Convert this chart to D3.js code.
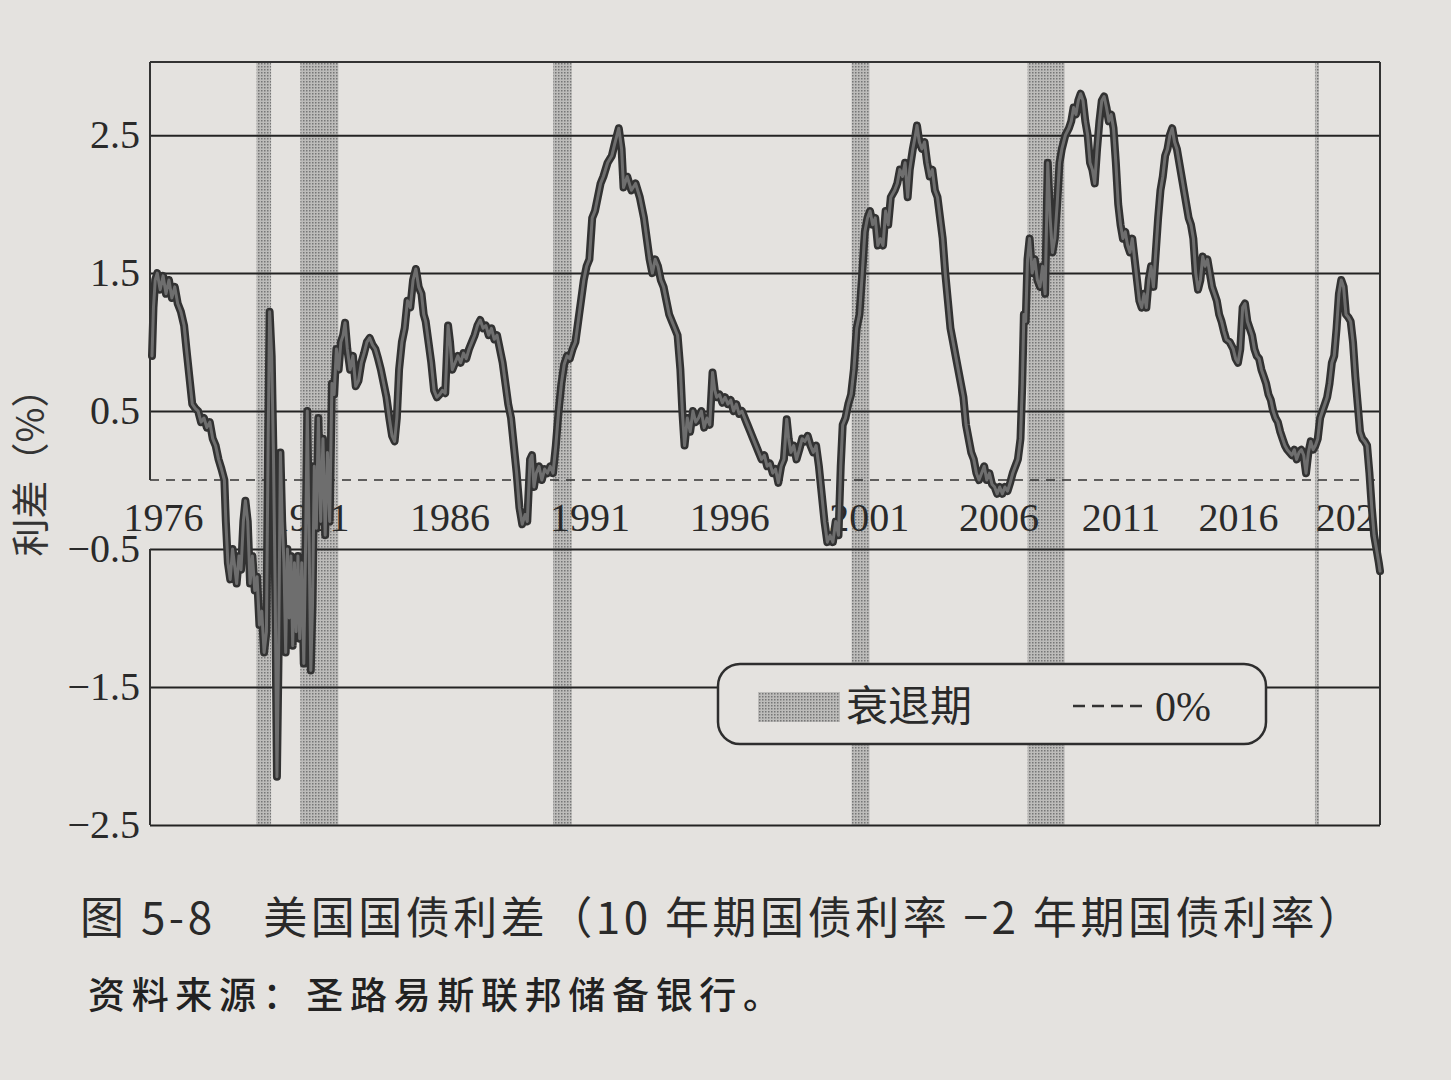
<!DOCTYPE html>
<html><head><meta charset="utf-8">
<script src="https://cdn.jsdelivr.net/npm/d3@7"></script>
<style>
html,body{margin:0;padding:0;background:#e4e2df;}
svg{display:block}
</style></head><body>
<svg id="chart" width="1451" height="1080"></svg>
<script>
// ---------- data ----------
// [decimal year, 10Y - 2Y spread in %]
const spreadSeries = [
[1976.42,0.9],[1976.47,1.25],[1976.53,1.45],[1976.6,1.5],[1976.7,1.38],[1976.8,1.48],[1976.9,1.35],[1977.0,1.45],
[1977.1,1.32],[1977.2,1.4],[1977.3,1.28],[1977.41,1.22],[1977.52,1.12],[1977.6,0.95],[1977.7,0.75],[1977.8,0.55],
[1977.9,0.52],[1978.0,0.5],[1978.1,0.42],[1978.2,0.45],[1978.3,0.38],[1978.4,0.42],[1978.5,0.3],[1978.6,0.25],
[1978.7,0.15],[1978.8,0.08],[1978.9,0.0],[1978.95,-0.3],[1979.02,-0.6],[1979.1,-0.72],[1979.18,-0.5],[1979.25,-0.62],
[1979.32,-0.75],[1979.4,-0.55],[1979.47,-0.65],[1979.55,-0.3],[1979.62,-0.15],[1979.7,-0.3],[1979.78,-0.75],[1979.86,-0.55],
[1979.94,-0.8],[1980.02,-0.7],[1980.1,-1.05],[1980.18,-0.95],[1980.26,-1.25],[1980.34,-1.1],[1980.4,0.3],[1980.45,1.22],
[1980.52,0.9],[1980.58,0.2],[1980.64,-0.8],[1980.7,-2.15],[1980.76,-1.2],[1980.82,0.2],[1980.88,-0.3],[1980.94,-0.6],
[1981.0,-1.25],[1981.06,-0.5],[1981.12,-1.0],[1981.18,-0.55],[1981.24,-1.2],[1981.3,-0.6],[1981.36,-1.1],[1981.42,-0.55],
[1981.48,-1.15],[1981.55,-0.6],[1981.62,-1.33],[1981.68,-0.5],[1981.74,0.5],[1981.8,-0.4],[1981.86,-1.38],[1981.92,-0.9],
[1981.98,0.1],[1982.05,-0.35],[1982.12,0.45],[1982.2,-0.3],[1982.28,0.3],[1982.36,-0.4],[1982.44,0.2],[1982.52,-0.3],
[1982.6,0.7],[1982.68,0.62],[1982.76,0.95],[1982.84,0.8],[1982.92,1.0],[1983.0,1.05],[1983.07,1.14],[1983.15,0.95],
[1983.25,0.8],[1983.35,0.9],[1983.45,0.68],[1983.55,0.72],[1983.65,0.85],[1983.75,0.92],[1983.85,1.0],[1983.95,1.03],
[1984.05,0.98],[1984.15,0.95],[1984.25,0.88],[1984.35,0.8],[1984.45,0.7],[1984.55,0.6],[1984.65,0.45],[1984.75,0.32],
[1984.84,0.28],[1984.92,0.45],[1985.0,0.8],[1985.1,1.0],[1985.2,1.1],[1985.3,1.3],[1985.4,1.25],[1985.5,1.45],
[1985.6,1.53],[1985.7,1.4],[1985.8,1.35],[1985.88,1.2],[1985.95,1.15],[1986.05,1.0],[1986.15,0.85],[1986.25,0.65],
[1986.35,0.6],[1986.45,0.62],[1986.55,0.65],[1986.65,0.63],[1986.75,1.12],[1986.82,1.0],[1986.9,0.8],[1987.0,0.85],
[1987.1,0.9],[1987.2,0.85],[1987.3,0.92],[1987.4,0.88],[1987.5,0.95],[1987.6,1.0],[1987.7,1.05],[1987.8,1.12],
[1987.9,1.16],[1988.0,1.1],[1988.1,1.12],[1988.2,1.05],[1988.3,1.1],[1988.4,1.02],[1988.5,1.05],[1988.6,0.95],
[1988.7,0.85],[1988.8,0.7],[1988.9,0.55],[1989.0,0.45],[1989.1,0.25],[1989.2,0.05],[1989.3,-0.2],[1989.4,-0.32],
[1989.5,-0.25],[1989.58,-0.3],[1989.68,0.15],[1989.75,0.18],[1989.82,-0.05],[1989.9,0.05],[1990.0,0.1],[1990.1,0.0],
[1990.2,0.08],[1990.3,0.05],[1990.4,0.1],[1990.5,0.05],[1990.6,0.25],[1990.7,0.5],[1990.8,0.7],[1990.9,0.84],
[1991.0,0.9],[1991.1,0.88],[1991.2,0.95],[1991.3,1.0],[1991.4,1.15],[1991.5,1.3],[1991.6,1.45],[1991.7,1.55],
[1991.8,1.6],[1991.9,1.9],[1992.0,1.95],[1992.1,2.05],[1992.2,2.15],[1992.3,2.2],[1992.45,2.3],[1992.6,2.35],
[1992.72,2.45],[1992.85,2.55],[1992.95,2.4],[1993.02,2.12],[1993.15,2.2],[1993.3,2.1],[1993.45,2.15],[1993.6,2.05],
[1993.75,1.9],[1993.85,1.75],[1993.95,1.6],[1994.05,1.5],[1994.15,1.6],[1994.25,1.55],[1994.35,1.45],[1994.45,1.4],
[1994.55,1.3],[1994.65,1.2],[1994.75,1.15],[1994.85,1.1],[1994.95,1.05],[1995.05,0.8],[1995.12,0.5],[1995.2,0.25],
[1995.3,0.45],[1995.4,0.35],[1995.5,0.5],[1995.6,0.42],[1995.7,0.45],[1995.8,0.5],[1995.9,0.38],[1996.0,0.45],
[1996.1,0.4],[1996.2,0.78],[1996.28,0.65],[1996.35,0.6],[1996.45,0.62],[1996.55,0.56],[1996.65,0.6],[1996.75,0.55],
[1996.85,0.58],[1996.95,0.5],[1997.05,0.55],[1997.15,0.48],[1997.25,0.5],[1997.35,0.45],[1997.45,0.4],[1997.55,0.35],
[1997.65,0.3],[1997.75,0.25],[1997.85,0.2],[1997.95,0.15],[1998.05,0.18],[1998.15,0.1],[1998.25,0.12],[1998.35,0.05],
[1998.45,0.08],[1998.55,-0.02],[1998.65,0.1],[1998.75,0.15],[1998.85,0.44],[1998.92,0.3],[1999.0,0.2],[1999.1,0.25],
[1999.2,0.15],[1999.3,0.22],[1999.4,0.3],[1999.5,0.28],[1999.6,0.32],[1999.7,0.25],[1999.8,0.2],[1999.9,0.25],
[2000.0,0.1],[2000.1,-0.1],[2000.2,-0.3],[2000.3,-0.45],[2000.4,-0.4],[2000.5,-0.45],[2000.6,-0.3],[2000.7,-0.4],
[2000.78,0.1],[2000.85,0.4],[2000.95,0.45],[2001.05,0.55],[2001.15,0.62],[2001.25,0.8],[2001.35,1.1],[2001.45,1.2],
[2001.55,1.5],[2001.65,1.8],[2001.75,1.9],[2001.85,1.95],[2001.95,1.85],[2002.05,1.9],[2002.15,1.7],[2002.25,1.75],
[2002.35,1.7],[2002.45,1.95],[2002.55,1.85],[2002.65,2.05],[2002.8,2.1],[2002.9,2.15],[2003.0,2.25],[2003.1,2.2],
[2003.2,2.3],[2003.3,2.05],[2003.38,2.25],[2003.5,2.4],[2003.6,2.5],[2003.66,2.57],[2003.75,2.45],[2003.85,2.4],
[2003.95,2.45],[2004.05,2.3],[2004.15,2.2],[2004.25,2.25],[2004.35,2.1],[2004.45,2.05],[2004.55,1.9],[2004.65,1.75],
[2004.75,1.5],[2004.85,1.3],[2004.95,1.1],[2005.05,1.0],[2005.15,0.9],[2005.25,0.8],[2005.35,0.7],[2005.45,0.6],
[2005.55,0.4],[2005.65,0.3],[2005.75,0.2],[2005.85,0.15],[2005.95,0.05],[2006.05,0.0],[2006.15,0.05],[2006.25,0.1],
[2006.35,0.0],[2006.45,0.05],[2006.55,-0.03],[2006.65,-0.05],[2006.75,-0.1],[2006.85,-0.05],[2006.95,-0.1],[2007.05,-0.05],
[2007.15,-0.08],[2007.25,-0.02],[2007.35,0.05],[2007.45,0.1],[2007.55,0.15],[2007.65,0.3],[2007.72,0.7],[2007.78,1.2],
[2007.85,1.15],[2007.92,1.6],[2008.0,1.75],[2008.1,1.5],[2008.2,1.6],[2008.3,1.45],[2008.4,1.4],[2008.5,1.55],
[2008.6,1.35],[2008.7,2.3],[2008.8,1.9],[2008.9,1.65],[2009.0,1.75],[2009.1,2.0],[2009.2,2.3],[2009.3,2.4],
[2009.45,2.5],[2009.6,2.55],[2009.7,2.6],[2009.8,2.7],[2009.9,2.65],[2010.0,2.75],[2010.1,2.8],[2010.2,2.75],
[2010.3,2.6],[2010.4,2.5],[2010.5,2.3],[2010.6,2.25],[2010.7,2.15],[2010.8,2.4],[2010.9,2.6],[2011.0,2.75],
[2011.1,2.78],[2011.2,2.7],[2011.3,2.6],[2011.4,2.65],[2011.5,2.55],[2011.6,2.3],[2011.7,2.0],[2011.8,1.85],
[2011.9,1.75],[2012.0,1.8],[2012.1,1.7],[2012.2,1.65],[2012.3,1.75],[2012.4,1.6],[2012.5,1.45],[2012.6,1.3],
[2012.7,1.25],[2012.8,1.35],[2012.9,1.25],[2013.0,1.45],[2013.1,1.55],[2013.2,1.4],[2013.3,1.65],[2013.4,1.9],
[2013.5,2.1],[2013.6,2.2],[2013.7,2.35],[2013.8,2.4],[2013.9,2.5],[2014.0,2.55],[2014.1,2.45],[2014.2,2.4],
[2014.3,2.3],[2014.4,2.2],[2014.5,2.1],[2014.6,2.0],[2014.7,1.9],[2014.8,1.85],[2014.9,1.75],[2015.0,1.5],
[2015.1,1.38],[2015.2,1.45],[2015.3,1.62],[2015.4,1.55],[2015.5,1.6],[2015.6,1.5],[2015.7,1.4],[2015.8,1.35],
[2015.9,1.3],[2016.0,1.2],[2016.1,1.15],[2016.2,1.08],[2016.3,1.02],[2016.45,1.0],[2016.6,0.95],[2016.7,0.88],
[2016.8,0.85],[2016.9,0.95],[2017.0,1.25],[2017.1,1.28],[2017.2,1.15],[2017.3,1.1],[2017.4,1.05],[2017.5,0.95],
[2017.6,0.9],[2017.7,0.88],[2017.8,0.8],[2017.9,0.75],[2018.0,0.7],[2018.1,0.62],[2018.2,0.58],[2018.3,0.5],
[2018.4,0.45],[2018.5,0.42],[2018.6,0.35],[2018.7,0.3],[2018.8,0.25],[2018.9,0.22],[2019.0,0.2],[2019.1,0.18],
[2019.2,0.22],[2019.3,0.15],[2019.4,0.2],[2019.5,0.22],[2019.6,0.18],[2019.7,0.05],[2019.8,0.2],[2019.9,0.28],
[2020.0,0.22],[2020.1,0.25],[2020.2,0.3],[2020.3,0.45],[2020.4,0.5],[2020.5,0.55],[2020.6,0.6],[2020.7,0.7],
[2020.8,0.85],[2020.9,0.9],[2021.0,1.1],[2021.1,1.35],[2021.2,1.45],[2021.3,1.4],[2021.4,1.2],[2021.5,1.18],
[2021.6,1.15],[2021.7,1.0],[2021.8,0.75],[2021.9,0.55],[2022.0,0.35],[2022.1,0.3],[2022.2,0.28],[2022.3,0.25],
[2022.4,0.05],[2022.5,-0.2],[2022.6,-0.4],[2022.7,-0.5],[2022.8,-0.6],[2022.85,-0.66]
];
// NBER recessions [start, end] in decimal years
const recessions = [[1980.0,1980.5],[1981.5,1982.83],[1990.5,1991.17],[2001.17,2001.83],[2007.92,2009.42],[2020.08,2020.25]];
const yTicks = [2.5, 1.5, 0.5, -0.5, -1.5, -2.5];
const xLabelYears = [1976, 1981, 1986, 1991, 1996, 2001, 2006, 2011, 2016, 2021];
const xLabels = ["1976","1981","1986","1991","1996","2001","2006","2011","2016","2021"];
const legendLabels = ["衰退期", "0%"];
const yAxisTitle = "利差（%）";
const figureTitle = "图 5-8　美国国债利差（10 年期国债利率 −2 年期国债利率）";
const sourceNote = "资料来源：圣路易斯联邦储备银行。";

// ---------- layout ----------
const paper = "#e4e2df", ink = "#2a2a2a";
const L = 150, R = 1380;
const svg = d3.select("#chart");

const x = d3.scaleLinear()
  .domain([1976.42, 1982.21, 2001.54, 2008.71, 2022.85])
  .range([152, 321, 862, 1048, 1380]);
const y = d3.scaleLinear().domain([-2.5, 3.03]).range([825, 62]);
const yTop = y(3.03), yBot = y(-2.5);

const defs = svg.append("defs");
const pat = defs.append("pattern").attr("id","stipple").attr("width",3).attr("height",3)
  .attr("patternUnits","userSpaceOnUse");
pat.append("rect").attr("width",3).attr("height",3).attr("fill","#bdbcba");
pat.append("rect").attr("width",1.5).attr("height",1.5).attr("fill","#767676");
defs.append("clipPath").attr("id","plotclip").append("rect")
  .attr("x",0).attr("y",0).attr("width",R).attr("height",1080);

// recession bands
svg.append("g").selectAll("rect").data(recessions).join("rect")
  .attr("x", d => x(d[0])).attr("width", d => Math.max(3, x(d[1]) - x(d[0])))
  .attr("y", yTop).attr("height", yBot - yTop)
  .attr("fill", "url(#stipple)");

// gridlines + y tick labels
const yAxis = svg.append("g").attr("transform", `translate(${L},0)`)
  .call(d3.axisLeft(y).tickValues(yTicks).tickSize(-(R - L)).tickPadding(10)
    .tickFormat(d3.format(".1f")));
yAxis.select(".domain").remove();
yAxis.selectAll(".tick line").attr("stroke", "#232323").attr("stroke-width", 2);
yAxis.selectAll(".tick text").attr("fill", ink)
  .style("font-family", "'Liberation Serif', 'DejaVu Serif', serif").style("font-size", "40px");

// frame
const frame = svg.append("g").attr("stroke", "#333").attr("stroke-width", 2).attr("fill", "none");
frame.append("line").attr("x1", L).attr("x2", R).attr("y1", yTop).attr("y2", yTop);
frame.append("line").attr("x1", R).attr("x2", R).attr("y1", yTop).attr("y2", yBot);
frame.append("line").attr("x1", L).attr("x2", L).attr("y1", yTop).attr("y2", y(0));
frame.append("line").attr("x1", L).attr("x2", L).attr("y1", y(-0.5)).attr("y2", yBot);

// zero dashed line
svg.append("line").attr("x1", L).attr("x2", R).attr("y1", y(0)).attr("y2", y(0))
  .attr("stroke", "#333").attr("stroke-width", 1.6).attr("stroke-dasharray", "9,7");

// x labels (years), clipped at the right border
const xAxis = svg.append("g").attr("transform", `translate(0,${y(0)})`)
  .attr("clip-path", "url(#plotclip)")
  .call(d3.axisBottom(x).tickValues(xLabelYears.map(v => v + 0.8)).tickSize(0).tickPadding(23)
    .tickFormat((d, i) => xLabels[i]));
xAxis.select(".domain").remove();
xAxis.selectAll(".tick text").attr("fill", ink)
  .style("font-family", "'Liberation Serif', 'DejaVu Serif', serif").style("font-size", "40px");

// spread line
const line = d3.line().x(d => x(d[0])).y(d => y(d[1]));
svg.append("path").datum(spreadSeries).attr("d", line)
  .attr("fill", "none").attr("stroke", "#323232").attr("stroke-width", 8)
  .attr("stroke-linejoin", "round").attr("stroke-linecap", "round");
svg.append("path").datum(spreadSeries).attr("d", line)
  .attr("fill", "none").attr("stroke", "#6e6e6e").attr("stroke-width", 3)
  .attr("stroke-linejoin", "round").attr("stroke-linecap", "round");

// legend
const lg = svg.append("g");
lg.append("rect").attr("x", 718).attr("y", 664).attr("width", 548).attr("height", 80).attr("rx", 22)
  .attr("fill", paper).attr("stroke", "#2e2e2e").attr("stroke-width", 2.5);
lg.append("rect").attr("x", 758).attr("y", 692).attr("width", 82).attr("height", 30).attr("fill", "url(#stipple)");
lg.append("text").attr("x", 846).attr("y", 721).text(legendLabels[0]).attr("fill", ink)
  .style("font-family", "'Noto Sans CJK SC', sans-serif").style("font-size", "42px");
lg.append("line").attr("x1", 1073).attr("x2", 1146).attr("y1", 706).attr("y2", 706)
  .attr("stroke", "#333").attr("stroke-width", 2.5).attr("stroke-dasharray", "12,7");
lg.append("text").attr("x", 1155).attr("y", 721).text(legendLabels[1]).attr("fill", ink)
  .style("font-family", "'Liberation Serif', serif").style("font-size", "42px");

// y axis title
svg.append("text").attr("transform", "translate(27,463) rotate(-90)")
  .attr("text-anchor", "middle").attr("dominant-baseline", "central")
  .text(yAxisTitle).attr("fill", "#333")
  .style("font-family", "'Noto Sans CJK SC', sans-serif").style("font-size", "38px");

// caption
svg.append("text").attr("x", 80).attr("y", 934).text(figureTitle).attr("fill", ink)
  .attr("textLength", 1282).attr("lengthAdjust", "spacing")
  .style("font-family", "'Noto Sans CJK SC', sans-serif").style("font-size", "44px");
svg.append("text").attr("x", 88).attr("y", 1009).text(sourceNote).attr("fill", "#222")
  .attr("textLength", 692).attr("lengthAdjust", "spacing")
  .style("font-family", "'Noto Sans CJK SC', sans-serif").style("font-size", "37px").style("font-weight", "500");
</script>
</body></html>
